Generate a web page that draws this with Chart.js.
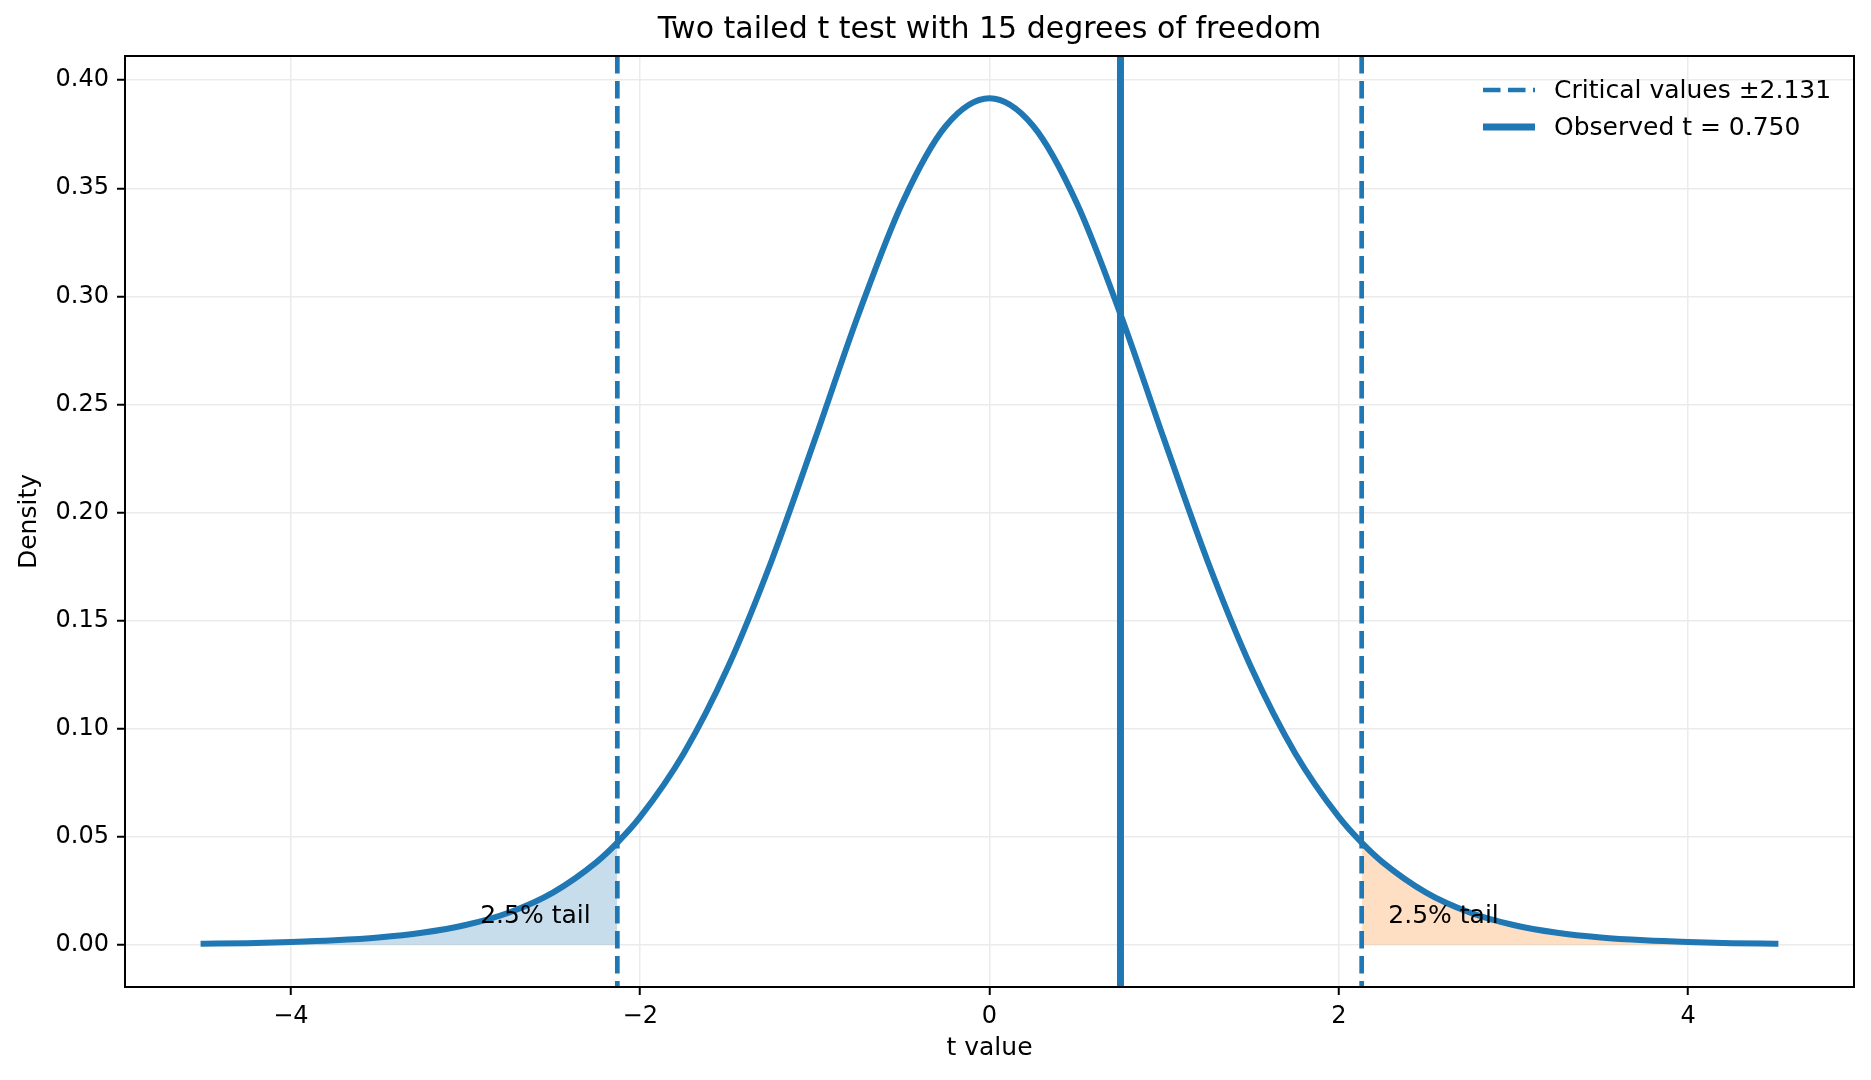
<!DOCTYPE html>
<html>
<head>
<meta charset="utf-8">
<script src="https://cdn.jsdelivr.net/npm/chart.js@4.4.0/dist/chart.umd.min.js"></script>
<style>
  html, body { margin: 0; padding: 0; background: #fff; }
  #wrap { width: 1871px; height: 1080px; }
</style>
</head>
<body>
<div id="wrap"><canvas id="tChart" width="1871" height="1080"></canvas></div>
<script>
// t values and density
const tValues = [-4.5, -4.25, -4, -3.75, -3.5, -3.25, -3, -2.75, -2.5, -2.25, -2.131, -2, -1.75, -1.5, -1.25, -1, -0.75, -0.5, -0.25,
  0, 0.25, 0.5, 0.75, 1, 1.25, 1.5, 1.75, 2, 2.131, 2.25, 2.5, 2.75, 3, 3.25, 3.5, 3.75, 4, 4.25, 4.5];
const density = [0.0004, 0.0007, 0.0012, 0.0020, 0.0033, 0.0055, 0.0091, 0.0149, 0.0241, 0.0382, 0.0472, 0.0591, 0.0886, 0.1280, 0.1772, 0.2337, 0.2917, 0.3431, 0.3788,
  0.3916, 0.3788, 0.3431, 0.2917, 0.2337, 0.1772, 0.1280, 0.0886, 0.0591, 0.0472, 0.0382, 0.0241, 0.0149, 0.0091, 0.0055, 0.0033, 0.0020, 0.0012, 0.0007, 0.0004];

const criticalValue = 2.131;
const observedT = 0.750;
const tailLabel = "2.5% tail";
const tailLabelX = [-2.6, 2.6];
const tailLabelY = 0.01;
const chartTitle = "Two tailed t test with 15 degrees of freedom";

const xTicks = [-4, -2, 0, 2, 4];
const yTicks = [0, 0.05, 0.10, 0.15, 0.20, 0.25, 0.30, 0.35, 0.40];

const BLUE = "#1f77b4";
const FONT = '"DejaVu Sans", "Liberation Sans", sans-serif';
const FS = 25;      // labels, legend, annotations
const TICK_FS = 24; // tick labels

const curve = tValues.map((t, i) => ({ x: t, y: density[i] }));
const leftTail = curve.filter(p => p.x <= -criticalValue);
const rightTail = curve.filter(p => p.x >= criticalValue);

const refLines = [
  { label: "Critical values \u00b1" + criticalValue.toFixed(3), xs: [-criticalValue, criticalValue], width: 4.7, dash: [17.5, 7.5] },
  { label: "Observed t = " + observedT.toFixed(3), xs: [observedT], width: 7, dash: [] }
];

// vertical lines, tail text, legend, title and frame
const overlay = {
  id: "overlay",
  afterDatasetsDraw(chart) {
    const { ctx, chartArea: a, scales: { x, y } } = chart;
    ctx.save();
    ctx.beginPath();
    ctx.rect(a.left, a.top, a.right - a.left, a.bottom - a.top);
    ctx.clip();
    ctx.strokeStyle = BLUE;
    refLines.forEach(r => {
      ctx.lineWidth = r.width;
      ctx.setLineDash(r.dash);
      r.xs.forEach(v => {
        const px = x.getPixelForValue(v);
        ctx.beginPath();
        ctx.moveTo(px, a.top);
        ctx.lineTo(px, a.bottom);
        ctx.stroke();
      });
    });
    ctx.restore();

    ctx.save();
    ctx.fillStyle = "#000";
    ctx.font = FS + "px " + FONT;
    ctx.textAlign = "center";
    ctx.textBaseline = "alphabetic";
    tailLabelX.forEach(v => ctx.fillText(tailLabel, x.getPixelForValue(v), y.getPixelForValue(tailLabelY)));

    // title centred over the plot area
    ctx.font = "30px " + FONT;
    ctx.textBaseline = "middle";
    ctx.fillText(chartTitle, (a.left + a.right) / 2, a.top - 26);

    // legend, upper right, no frame
    ctx.font = FS + "px " + FONT;
    ctx.textAlign = "left";
    refLines.forEach((r, i) => {
      const ly = a.top + 34 + i * 37;
      ctx.strokeStyle = BLUE;
      ctx.lineWidth = r.width;
      ctx.setLineDash(r.dash);
      ctx.beginPath();
      ctx.moveTo(a.right - 371, ly);
      ctx.lineTo(a.right - 319, ly);
      ctx.stroke();
      ctx.fillText(r.label, a.right - 300, ly + 1);
    });

    // axes frame
    ctx.setLineDash([]);
    ctx.strokeStyle = "#000";
    ctx.lineWidth = 2;
    ctx.strokeRect(a.left, a.top, a.right - a.left, a.bottom - a.top);
    ctx.restore();
  }
};

new Chart(document.getElementById("tChart"), {
  type: "line",
  data: {
    datasets: [
      {
        label: "t pdf",
        data: curve,
        borderColor: BLUE,
        borderWidth: 6,
        borderCapStyle: "square",
        pointRadius: 0,
        cubicInterpolationMode: "monotone",
        fill: false
      },
      {
        label: "left tail",
        data: leftTail,
        borderWidth: 0,
        pointRadius: 0,
        cubicInterpolationMode: "monotone",
        backgroundColor: "rgba(31,119,180,0.25)",
        fill: "origin"
      },
      {
        label: "right tail",
        data: rightTail,
        borderWidth: 0,
        pointRadius: 0,
        cubicInterpolationMode: "monotone",
        backgroundColor: "rgba(255,127,14,0.25)",
        fill: "origin"
      }
    ]
  },
  options: {
    responsive: false,
    animation: false,
    devicePixelRatio: 1,
    layout: { padding: { left: 0, right: 17, top: 56, bottom: 0 } },
    plugins: {
      legend: { display: false },
      tooltip: { enabled: false },
      title: { display: false }
    },
    scales: {
      x: {
        type: "linear",
        min: -4.95,
        max: 4.95,
        afterFit: s => { s.height = 93; },
        afterBuildTicks: s => { s.ticks = xTicks.map(v => ({ value: v })); },
        ticks: {
          includeBounds: false,
          color: "#000",
          padding: 7,
          maxRotation: 0,
          font: { family: FONT, size: TICK_FS },
          callback: v => (v < 0 ? "\u2212" + Math.abs(v) : String(v))
        },
        grid: { color: "#ebebeb", lineWidth: 1.5, tickColor: "#000", tickLength: 8, tickWidth: 2 },
        border: { display: false },
        title: {
          display: true,
          text: "t value",
          color: "#000",
          font: { family: FONT, size: FS },
          padding: { top: 0, bottom: 17 }
        }
      },
      y: {
        type: "linear",
        min: -0.0196,
        max: 0.4112,
        afterFit: s => { s.width = 125; },
        afterBuildTicks: s => { s.ticks = yTicks.map(v => ({ value: v })); },
        ticks: {
          includeBounds: false,
          color: "#000",
          padding: 8,
          font: { family: FONT, size: TICK_FS },
          callback: v => v.toFixed(2)
        },
        grid: { color: "#ebebeb", lineWidth: 1.5, tickColor: "#000", tickLength: 8, tickWidth: 2 },
        border: { display: false },
        title: {
          display: true,
          text: "Density",
          color: "#000",
          font: { family: FONT, size: FS },
          padding: { top: 14, bottom: 0 }
        }
      }
    }
  },
  plugins: [overlay]
});
</script>
</body>
</html>
